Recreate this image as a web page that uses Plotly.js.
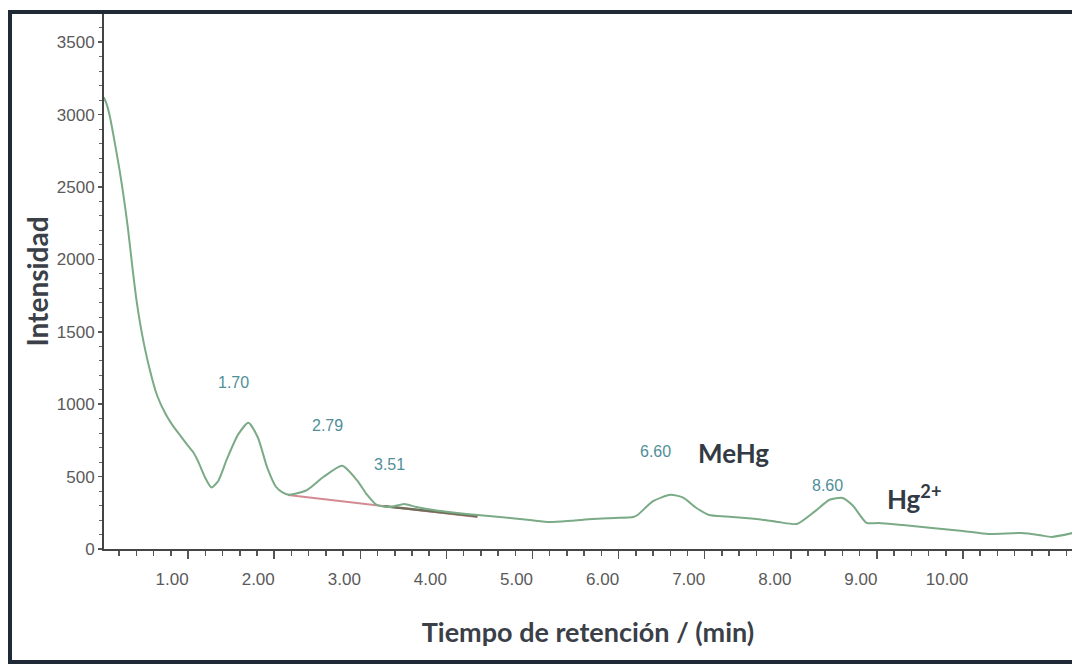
<!DOCTYPE html>
<html>
<head>
<meta charset="utf-8">
<script src="https://cdn.plot.ly/plotly-3.0.1.min.js"></script>
<style>
  html, body { margin: 0; padding: 0; background: #ffffff; }
  #chart { width: 1072px; height: 666px; }
</style>
</head>
<body>
<div id="chart"></div>
<script>
// Chromatogram: retention time (min) vs. detector intensity
const retentionTime = [0.02, 0.05, 0.09, 0.15, 0.20, 0.245, 0.30, 0.35, 0.40, 0.46, 0.55, 0.64, 0.74, 0.83,
  0.92, 1.00, 1.06, 1.12, 1.20, 1.27, 1.35, 1.45, 1.58, 1.70, 1.81, 1.92, 2.02, 2.10, 2.18,
  2.38, 2.57, 2.79, 2.96, 3.08, 3.19, 3.35, 3.51, 3.65, 3.85, 4.10, 4.36, 4.62, 4.97,
  5.20, 5.45, 5.70, 5.95, 6.17, 6.22, 6.40, 6.60, 6.75, 6.90, 7.05, 7.25, 7.47, 7.70, 7.86,
  8.07, 8.28, 8.45, 8.60, 8.72, 8.88, 9.02, 9.30, 9.64, 10.00, 10.30, 10.68, 10.90, 11.03, 11.27];
const intensity = [3120, 3080, 2990, 2800, 2630, 2460, 2220, 1960, 1720, 1500, 1250, 1060, 930, 845,
  775, 712, 668, 600, 490, 425, 470, 620, 790, 872, 770, 560, 430, 390, 375,
  407, 497, 575, 476, 373, 304, 290, 311, 290, 269, 250, 235, 221, 200,
  186, 195, 207, 214, 221, 235, 330, 375, 355, 285, 235, 225, 214, 200, 186,
  173, 260, 340, 352, 300, 180, 180, 165, 145, 125, 104, 110, 95, 83, 110];

// Integration baselines drawn under the 2.79 and 3.51 peaks
const baselineA_t = [2.16, 4.36];
const baselineA_y = [373, 221];
const baselineB_t = [3.28, 4.36];
const baselineB_y = [296, 226];

// Labelled peaks (retention time, apex intensity)
const peakTimes = [1.70, 2.79, 3.51, 6.60, 8.60];
const peakHeights = [872, 575, 311, 375, 352];
const peakLabelLift = [40, 40, 39, 43, 13];

// Species assignments
const speciesNames = ['MeHg', 'Hg<sup>2+</sup>'];
const speciesX = [7.33, 9.43];
const speciesY = [663, 359];

const xTickVals = [1, 2, 3, 4, 5, 6, 7, 8, 9, 10];
const xTickText = ['1.00', '2.00', '3.00', '4.00', '5.00', '6.00', '7.00', '8.00', '9.00', '10.00'];
const yTickVals = [0, 500, 1000, 1500, 2000, 2500, 3000, 3500];

const tickFont = { family: 'Liberation Sans, Arial, sans-serif', size: 17, color: '#5a5a5a' };
const boldFamily = 'Lato, Open Sans, sans-serif';

const traces = [
  {
    x: baselineA_t, y: baselineA_y, mode: 'lines', type: 'scatter',
    line: { color: '#d48a92', width: 2 }, hoverinfo: 'skip', showlegend: false
  },
  {
    x: baselineB_t, y: baselineB_y, mode: 'lines', type: 'scatter',
    line: { color: '#6e6f5a', width: 2.5 }, hoverinfo: 'skip', showlegend: false
  },
  {
    x: retentionTime, y: intensity, mode: 'lines', type: 'scatter',
    line: { color: '#7aaa86', width: 2, shape: 'spline', smoothing: 0.6 },
    showlegend: false
  }
];

const annotations = peakTimes.map((t, i) => ({
  x: t, y: peakHeights[i], xref: 'x', yref: 'y',
  text: t.toFixed(2), showarrow: false,
  xshift: -15, yshift: peakLabelLift[i],
  font: { family: 'Liberation Sans, Arial, sans-serif', size: 16, color: '#4f8f98' }
})).concat(speciesNames.map((s, i) => ({
  x: speciesX[i], y: speciesY[i], xref: 'x', yref: 'y',
  text: s, showarrow: false,
  font: { family: boldFamily, size: 26, color: '#333a44', weight: 700 }
})));

const layout = {
  width: 1072, height: 666,
  margin: { l: 104, r: 0, t: 14, b: 117 },
  paper_bgcolor: '#ffffff',
  plot_bgcolor: '#ffffff',
  showlegend: false,
  xaxis: {
    range: [0.023, 11.266],
    tickvals: xTickVals, ticktext: xTickText,
    ticks: 'outside', ticklen: 8, tickwidth: 1.5, tickcolor: '#555',
    minor: { dtick: 0.2, tick0: 0, ticks: 'outside', ticklen: 5, tickwidth: 1.5, tickcolor: '#555' },
    ticklabelshift: -16, ticklabelstandoff: 6,
    showline: true, linecolor: '#444', linewidth: 2,
    showgrid: false, zeroline: false,
    tickfont: tickFont,
    title: { text: 'Tiempo de retención / (min)', standoff: 35,
      font: { family: boldFamily, size: 27, color: '#3a3f48', weight: 700 } }
  },
  yaxis: {
    range: [0, 3695],
    tickvals: yTickVals,
    ticks: 'outside', ticklen: 4, tickwidth: 1.5, tickcolor: '#555',
    minor: { dtick: 100, tick0: 0, ticks: 'outside', ticklen: 3, tickwidth: 1, tickcolor: '#666' },
    showline: true, linecolor: '#444', linewidth: 2,
    showgrid: false, zeroline: false,
    tickfont: tickFont,
    title: { text: 'Intensidad', standoff: 0,
      font: { family: boldFamily, size: 28, color: '#3a3f48', weight: 700 } }
  },
  annotations: annotations,
  shapes: [
    {
      type: 'rect', xref: 'paper', yref: 'paper',
      x0: -0.0971, x1: 1.02, y0: -0.2112, y1: 1.0037,
      line: { color: '#1f2a36', width: 4 }, fillcolor: 'rgba(0,0,0,0)', layer: 'above'
    }
  ]
};

Plotly.newPlot('chart', traces, layout, { staticPlot: true, displayModeBar: false });
</script>
</body>
</html>
